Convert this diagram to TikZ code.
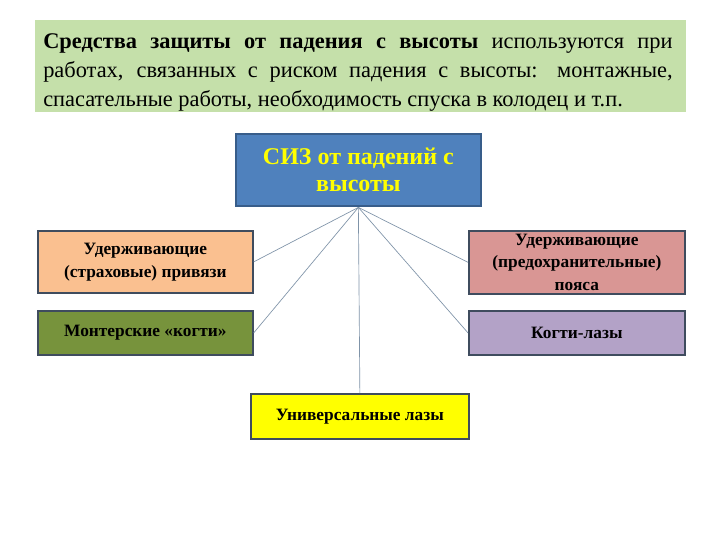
\documentclass[tikz,border=0pt]{standalone}
\usepackage{fontspec}
\setmainfont{Liberation Serif}
\begin{document}
\begin{tikzpicture}[x=0.75pt,y=-0.75pt,
  box/.style={draw=boxline,line width=1.3pt,inner sep=0pt,anchor=north west,align=center,font=\bfseries\fontsize{13pt}{17.3pt}\selectfont},
  conn/.style={draw=linecol,line width=0.5pt}]
\definecolor{boxline}{HTML}{3F4C5E}
\definecolor{linecol}{HTML}{7F93A8}
\useasboundingbox (0,0) rectangle (720,540);
\fill[white] (0,0) rectangle (720,540);
% header
\fill[fill={rgb,255:red,197;green,224;blue,170}] (35,20) rectangle (686,112);
\node[anchor=north west,inner sep=0pt,text width=472pt,align=justify,
  font=\fontsize{16.8pt}{21.8pt}\selectfont] (hdr) at (43,33)
  {\textbf{Средства защиты от падения с высоты} используются при\linebreak работах, связанных с риском падения с высоты: монтажные,\linebreak спасательные работы, необходимость спуска в колодец и т.п.};
% central
\node[draw={rgb,255:red,56;green,93;blue,138},line width=1.3pt,fill={rgb,255:red,79;green,129;blue,189},
  minimum width=183.75pt,minimum height=54pt,inner sep=0pt,anchor=north west,align=center,
  text={rgb,255:red,255;green,255;blue,0},font=\bfseries\fontsize{18pt}{21.8pt}\selectfont] (siz) at (235,133)
  {\raisebox{-3pt}{СИЗ от падений с}\\\raisebox{-2pt}{высоты}};
\node[box,fill={rgb,255:red,250;green,192;blue,144},minimum width=161.25pt,minimum height=46.5pt] (a) at (37,230)
  {Удерживающие\\(страховые) привязи};
\node[box,fill={rgb,255:red,217;green,150;blue,148},minimum width=162pt,minimum height=47.25pt] (b) at (468,230)
  {\raisebox{-1pt}{Удерживающие}\\(предохранительные)\\пояса};
\node[box,fill={rgb,255:red,119;green,147;blue,60},minimum width=161.25pt,minimum height=33pt] (c) at (37,310)
  {Монтерские «когти»};
\node[box,fill={rgb,255:red,179;green,162;blue,199},minimum width=162pt,minimum height=33pt] (d) at (468,310)
  {Когти-лазы};
\node[box,fill={rgb,255:red,255;green,255;blue,0},minimum width=163.5pt,minimum height=33.75pt] (e) at (250,393)
  {Универсальные лазы};
% connectors
\coordinate (hub) at ([yshift=-0.5pt]siz.south);
\draw[conn] (hub) -- (a.east);
\draw[conn] (hub) -- (c.east);
\draw[conn] (hub) -- (b.west);
\draw[conn] (hub) -- (d.west);
\draw[conn] (hub) -- (e.north);
\end{tikzpicture}
\end{document}
